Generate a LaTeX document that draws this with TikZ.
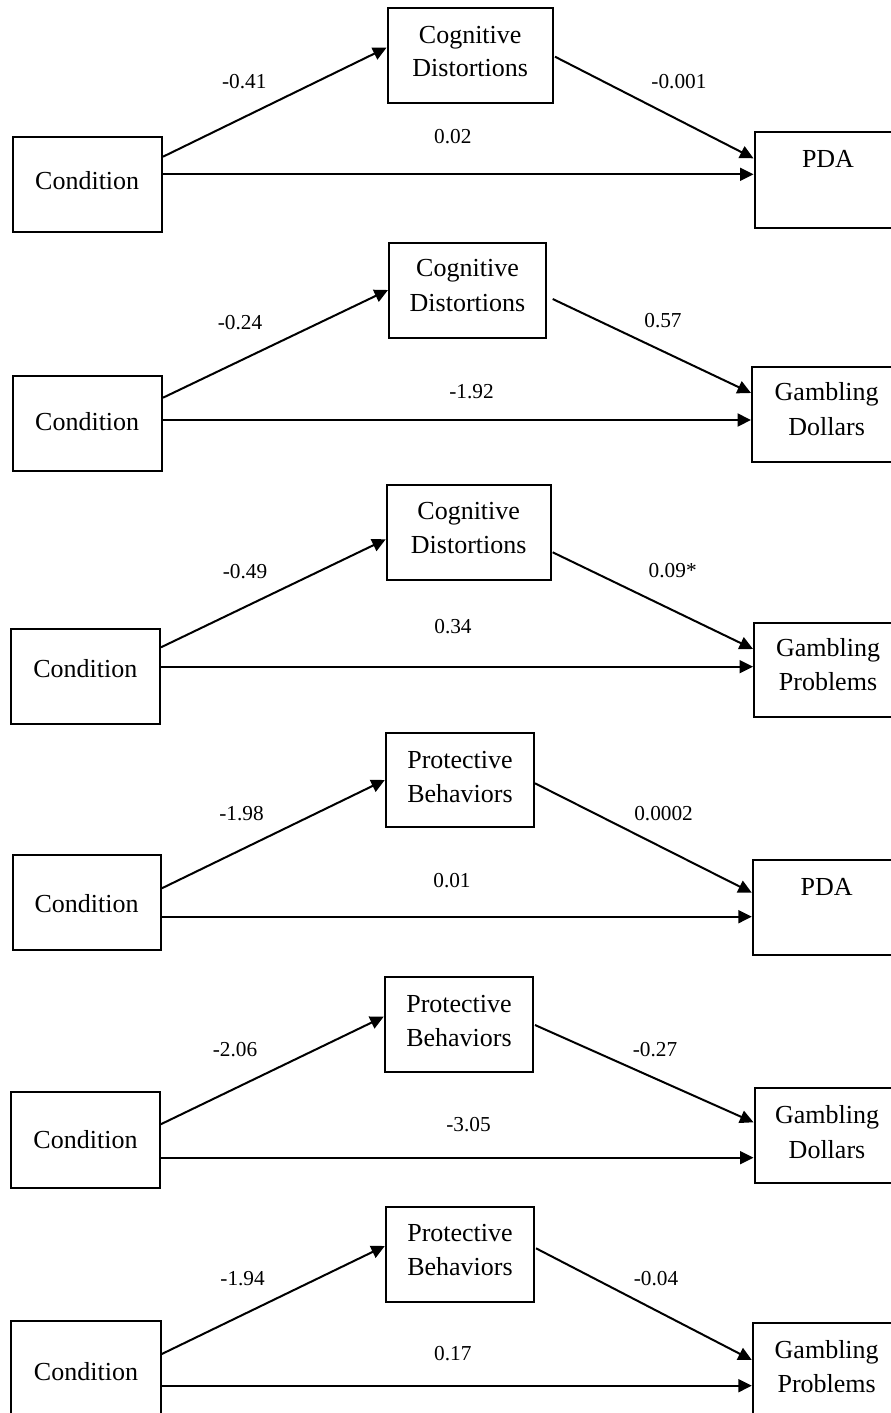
\documentclass[tikz,border=0pt]{standalone}
\usepackage{fontspec}
\setmainfont{Liberation Serif}
\usetikzlibrary{arrows.meta,calc}
\newcommand{\mybox}[5]{\node[box,minimum width={(#4)-(#2)},minimum height={(#5)-(#3)}] (#1) at ({((#2)+(#4))/2},{((#3)+(#5))/2}) {};}
\begin{document}
\begin{tikzpicture}[x=1pt,y=-1pt,
  box/.style={draw,line width=2pt,inner sep=0pt,rectangle},
  arr/.style={line width=2pt,-{Triangle[length=13.5pt,width=13pt]}},
  btxt/.style={anchor=base,inner sep=0pt,font=\fontsize{26}{31}\selectfont},
  ltxt/.style={anchor=base,inner sep=0pt,font=\fontsize{21.3}{25}\selectfont}]
\useasboundingbox (0,0) rectangle (891,1413);
\begin{scope}
\clip (0,0) rectangle (891,1413);
% ---------- Panel 1
\mybox{c1}{12.5}{137.3}{162}{232.3}
\mybox{m1}{387.5}{8.3}{552.8}{103.3}
\mybox{o1}{754.5}{132.3}{905}{227.7}
\node[btxt] (t1c) at (87.2,189.6) {Condition};
\node[btxt] (t1m1) at (470.2,43.3) {Cognitive};
\node[btxt] (t1m2) at (470.2,77) {Distortions};
\node[btxt] (t1o) at (828,167) {PDA};
\draw[arr] (c1.east |- 0,156.7) -- (m1.west |- 0,47.7);
\draw[arr] ($(m1.east |- 0,56.7)+(1.2,0)$) -- (o1.west |- 0,158.3);
\draw[arr] (c1.east |- 0,174.3) -- (o1.west |- 0,174.3);
\node[ltxt] (l1a) at (244.3,88.5) {-0.41};
\node[ltxt] (l1b) at (679,88.5) {-0.001};
\node[ltxt] (l1c) at (452.8,143.5) {0.02};
% ---------- Panel 2
\mybox{c2}{12.7}{375.7}{162}{470.7}
\mybox{m2}{389}{243}{546}{337.7}
\mybox{o2}{752}{366.7}{902}{461.7}
\node[btxt] (t2c) at (87.2,430.3) {Condition};
\node[btxt] (t2m1) at (467.5,276.7) {Cognitive};
\node[btxt] (t2m2) at (467.5,311) {Distortions};
\node[btxt] (t2o1) at (826.7,400.3) {Gambling};
\node[btxt] (t2o2) at (826.7,435.3) {Dollars};
\draw[arr] (c2.east |- 0,397.7) -- (m2.west |- 0,290);
\draw[arr] ($(m2.east |- 0,299)+(5.7,0)$) -- (o2.west |- 0,393);
\draw[arr] (c2.east |- 0,420) -- (o2.west |- 0,420);
\node[ltxt] (l2a) at (240,329.5) {-0.24};
\node[ltxt] (l2b) at (663,327.5) {0.57};
\node[ltxt] (l2c) at (471.5,398.5) {-1.92};
% ---------- Panel 3
\mybox{c3}{10.7}{629.3}{160}{724.3}
\mybox{m3}{386.7}{485}{550.7}{580}
\mybox{o3}{754}{622.7}{904}{717.3}
\node[btxt] (t3c) at (85.3,677.7) {Condition};
\node[btxt] (t3m1) at (468.7,519.3) {Cognitive};
\node[btxt] (t3m2) at (468.7,553.3) {Distortions};
\node[btxt] (t3o1) at (828,656.3) {Gambling};
\node[btxt] (t3o2) at (828,690.3) {Problems};
\draw[arr] (c3.east |- 0,647.3) -- (m3.west |- 0,539.3);
\draw[arr] ($(m3.east |- 0,552.3)+(1,0)$) -- (o3.west |- 0,649);
\draw[arr] (c3.east |- 0,666.7) -- (o3.west |- 0,666.7);
\node[ltxt] (l3a) at (245,578.5) {-0.49};
\node[ltxt] (l3b) at (672.7,577.8) {0.09*};
\node[ltxt] (l3c) at (453,633.5) {0.34};
% ---------- Panel 4
\mybox{c4}{12.5}{855}{160.8}{950}
\mybox{m4}{385.8}{732.7}{534}{827.3}
\mybox{o4}{752.8}{860}{903}{955}
\node[btxt] (t4c) at (86.6,912) {Condition};
\node[btxt] (t4m1) at (460,768) {Protective};
\node[btxt] (t4m2) at (460,802) {Behaviors};
\node[btxt] (t4o) at (826.7,895.3) {PDA};
\draw[arr] (c4.east |- 0,888.3) -- (m4.west |- 0,780);
\draw[arr] (m4.east |- 0,783.3) -- (o4.west |- 0,892.7);
\draw[arr] (c4.east |- 0,916.7) -- (o4.west |- 0,916.7);
\node[ltxt] (l4a) at (241.5,820) {-1.98};
\node[ltxt] (l4b) at (663.6,820) {0.0002};
\node[ltxt] (l4c) at (452,887.8) {0.01};
% ---------- Panel 5
\mybox{c5}{11.4}{1091.7}{159.7}{1187.7}
\mybox{m5}{384.7}{977.3}{533}{1072.3}
\mybox{o5}{754.5}{1088.3}{904}{1182.7}
\node[btxt] (t5c) at (85.5,1148.6) {Condition};
\node[btxt] (t5m1) at (459,1012) {Protective};
\node[btxt] (t5m2) at (459,1046) {Behaviors};
\node[btxt] (t5o1) at (827,1123.6) {Gambling};
\node[btxt] (t5o2) at (827,1158) {Dollars};
\draw[arr] (c5.east |- 0,1124.3) -- (m5.west |- 0,1016.7);
\draw[arr] ($(m5.east |- 0,1025)+(1,0)$) -- (o5.west |- 0,1122.3);
\draw[arr] (c5.east |- 0,1157.7) -- (o5.west |- 0,1157.7);
\node[ltxt] (l5a) at (235,1056.8) {-2.06};
\node[ltxt] (l5b) at (655,1056.8) {-0.27};
\node[ltxt] (l5c) at (468.5,1131.8) {-3.05};
% ---------- Panel 6
\mybox{c6}{11.4}{1321}{160.8}{1416}
\mybox{m6}{385.8}{1206.7}{534}{1301.7}
\mybox{o6}{752.8}{1323.3}{903}{1418}
\node[btxt] (t6c) at (86,1380.3) {Condition};
\node[btxt] (t6m1) at (460,1241) {Protective};
\node[btxt] (t6m2) at (460,1275.3) {Behaviors};
\node[btxt] (t6o1) at (826.7,1358.6) {Gambling};
\node[btxt] (t6o2) at (826.7,1392) {Problems};
\draw[arr] (c6.east |- 0,1354) -- (m6.west |- 0,1246);
\draw[arr] ($(m6.east |- 0,1248.3)+(1,0)$) -- (o6.west |- 0,1360);
\draw[arr] (c6.east |- 0,1385.7) -- (o6.west |- 0,1385.7);
\node[ltxt] (l6a) at (242.6,1285.8) {-1.94};
\node[ltxt] (l6b) at (656,1285.8) {-0.04};
\node[ltxt] (l6c) at (452.8,1360.8) {0.17};
\end{scope}
\end{tikzpicture}
\end{document}
